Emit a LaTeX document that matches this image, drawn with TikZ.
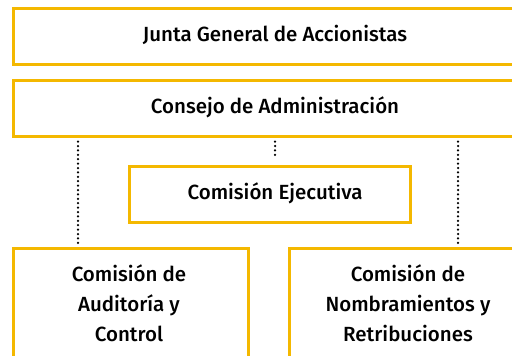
\documentclass[tikz,border=0pt]{standalone}
\usepackage{fontspec}
\setmainfont{Fira Sans Medium}
\definecolor{boxyellow}{HTML}{F4B800}
\begin{document}
\begin{tikzpicture}[x=1pt,y=-1pt,
  box/.style={draw=boxyellow,line width=2.6pt,fill=white,inner sep=0pt,anchor=north west},
  lbl/.style={font=\fontsize{20.5}{30}\selectfont,text=black,align=center,inner sep=0pt},
  dotline/.style={line width=2.5pt,dash pattern=on 0pt off 4.4pt,line cap=round}]
\useasboundingbox (0,0) rectangle (512,356);
\fill[white] (0,0) rectangle (512,356);
% boxes
\node[box,minimum width=526pt,minimum height=56pt] (junta) at (12,7) {};
\node[box,minimum width=526pt,minimum height=56pt] (consejo) at (12,79) {};
\node[box,minimum width=281pt,minimum height=56pt] (ejec) at (128,165) {};
\node[box,minimum width=235pt,minimum height=130pt] (audit) at (12,247) {};
\node[box,minimum width=240pt,minimum height=130pt] (nomb) at (288,247) {};
% labels
\node[lbl] (tjunta) at (275,35) {Junta General de Accionistas};
\node[lbl] (tconsejo) at (275,107) {Consejo de Administración};
\node[lbl] (tejec) at (275,193) {Comisión Ejecutiva};
\node[lbl] (taudit) at (129,303) {Comisión de\\Auditoría y\\Control};
\node[lbl] (tnomb) at (408,303) {Comisión de\\Nombramientos y\\Retribuciones};
% dotted connectors
\coordinate (cE) at (275,156);
\draw[dotline] (consejo.south -| 78,0) ++(0,4) -- (audit.north -| 78,0);
\draw[dotline] (consejo.south -| 275,0) ++(0,4) -- (cE);
\draw[dotline] (consejo.south -| 458,0) ++(0,4) -- (nomb.north -| 458,0);
\end{tikzpicture}
\end{document}
